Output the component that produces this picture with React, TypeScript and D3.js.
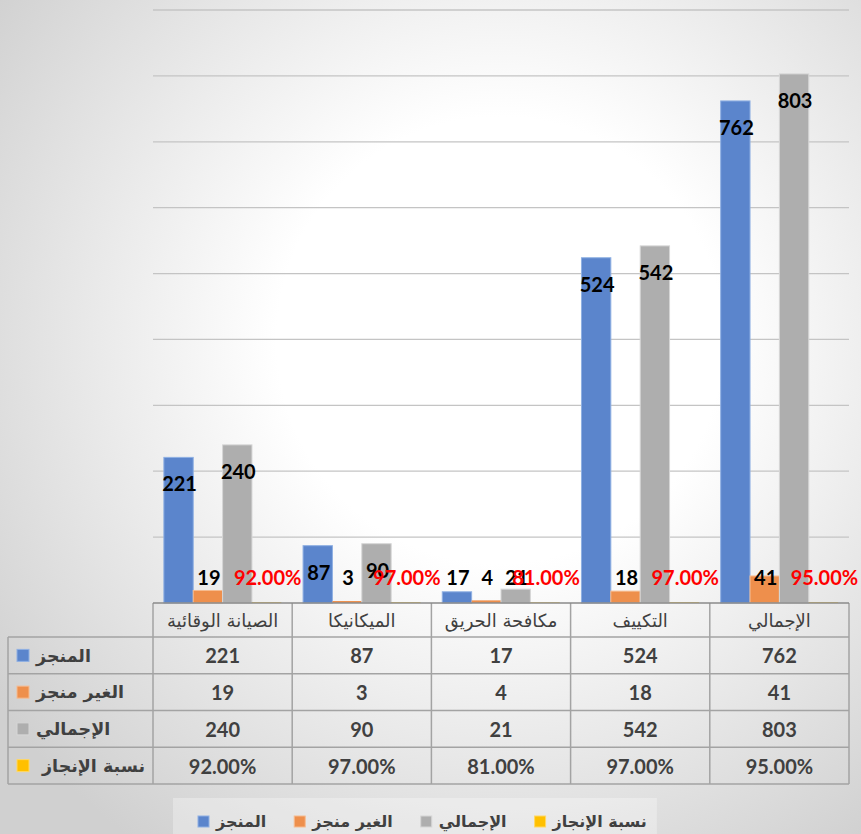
import React, { useEffect, useRef } from 'react';
import * as d3 from 'd3';

const categories = ['الصيانة الوقائية', 'الميكانيكا', 'مكافحة الحريق', 'التكييف', 'الإجمالي'];
const seriesNames = ['المنجز', 'الغير منجز', 'الإجمالي', 'نسبة الإنجاز'];
const doneValues = [221, 87, 17, 524, 762];
const notDoneValues = [19, 3, 4, 18, 41];
const totalValues = [240, 90, 21, 542, 803];
const rateValues = [0.92, 0.97, 0.81, 0.97, 0.95];
const seriesColors = ['#5b85cc', '#ee8f4c', '#aeaeae', '#ffc000'];
const seriesStrokes = ['#8fb0e3', '#f6bb90', '#d6d6d6', '#ffd866'];
const yMax = 900;

const W = 861;
const H = 834;

export default function App() {
  const ref = useRef<SVGSVGElement | null>(null);

  useEffect(() => {
    const svg = d3.select(ref.current);
    svg.selectAll('*').remove();

    const seriesValues = [doneValues, notDoneValues, totalValues, rateValues];
    const fmtPct = (v: number) => (v * 100).toFixed(2) + '%';
    const fmtVal = (si: number, v: number) => (si === 3 ? fmtPct(v) : String(v));

    const left = 153, right = 849, top = 10, base = 603;
    const x0 = d3.scaleBand<string>().domain(categories).range([left, right]).padding(0);
    const x1 = d3.scaleBand<string>().domain(seriesNames).range([0, x0.bandwidth()]).paddingInner(0).paddingOuter(0.37);
    const y = d3.scaleLinear().domain([0, yMax]).range([base, top]);

    const defs = svg.append('defs');
    const rg = defs.append('radialGradient').attr('id', 'bg').attr('gradientUnits', 'userSpaceOnUse')
      .attr('cx', 500).attr('cy', 340).attr('r', 620);
    rg.append('stop').attr('offset', '0%').attr('stop-color', '#ffffff');
    rg.append('stop').attr('offset', '36%').attr('stop-color', '#ffffff');
    rg.append('stop').attr('offset', '100%').attr('stop-color', '#d0d0d0');

    svg.append('rect').attr('x', 0).attr('y', 0).attr('width', W).attr('height', H).attr('fill', 'url(#bg)');

    // gridlines
    const ticks = d3.range(100, yMax + 1, 100);
    svg.append('g').selectAll('line').data(ticks).join('line')
      .attr('x1', left).attr('x2', right)
      .attr('y1', (d) => y(d)).attr('y2', (d) => y(d))
      .attr('stroke', '#c4c4c4').attr('stroke-width', 1.3);

    // bars
    const barsG = svg.append('g');
    seriesNames.forEach((s, si) => {
      barsG.append('g').selectAll('rect').data(seriesValues[si]).join('rect')
        .attr('x', (_d, i) => (x0(categories[i]) as number) + (x1(s) as number))
        .attr('y', (d) => y(d))
        .attr('width', x1.bandwidth())
        .attr('height', (d) => base - y(d))
        .attr('fill', seriesColors[si])
        .attr('stroke', (d) => (base - y(d) > 3 ? seriesStrokes[si] : 'none'))
        .attr('stroke-width', 1);
    });

    // labels
    const labelsG = svg.append('g');
    seriesNames.forEach((s, si) => {
      labelsG.append('g').selectAll('text').data(seriesValues[si]).join('text')
        .attr('x', (_d, i) => (x0(categories[i]) as number) + (x1(s) as number) + x1.bandwidth() / 2 + 1)
        .attr('y', (d) => Math.min(y(d) + 27, 578))
        .attr('dy', '0.35em')
        .attr('text-anchor', 'middle')
        .attr('font-family', 'Lato, "Open Sans", sans-serif')
        .attr('font-weight', 700)
        .attr('font-size', 20)
        .attr('fill', si === 3 ? '#ff0000' : '#000000')
        .text((d) => fmtVal(si, d));
    });

    // table
    const tableLeft = 8;
    const headerBottom = 637;
    const rowH = (784 - headerBottom) / 4;
    const tableBottom = headerBottom + rowH * 4;
    const tg = svg.append('g');
    const lineColor = '#a3a3a3';

    for (let r = 0; r <= 4; r++) {
      const yy = headerBottom + r * rowH;
      tg.append('line').attr('x1', tableLeft).attr('x2', right).attr('y1', yy).attr('y2', yy)
        .attr('stroke', lineColor).attr('stroke-width', 1.5);
    }
    tg.append('line').attr('x1', tableLeft).attr('x2', tableLeft).attr('y1', headerBottom).attr('y2', tableBottom)
      .attr('stroke', lineColor).attr('stroke-width', 1.5);
    const bounds = categories.map((c) => x0(c) as number).concat([right]);
    bounds.forEach((bx) => {
      tg.append('line').attr('x1', bx).attr('x2', bx).attr('y1', base).attr('y2', tableBottom)
        .attr('stroke', lineColor).attr('stroke-width', 1.5);
    });
    tg.append('line').attr('x1', left).attr('x2', right).attr('y1', base).attr('y2', base)
      .attr('stroke', '#8a8a8a').attr('stroke-width', 1.6);

    tg.selectAll('text.hdr').data(categories).join('text').attr('class', 'hdr')
      .attr('x', (c) => (x0(c) as number) + x0.bandwidth() / 2)
      .attr('y', (base + headerBottom) / 2 + 1)
      .attr('dy', '0.35em')
      .attr('text-anchor', 'middle')
      .attr('font-family', '"DejaVu Sans", sans-serif')
      .attr('font-size', 18)
      .attr('fill', '#404040')
      .text((c) => c);

    seriesNames.forEach((s, si) => {
      const cy = headerBottom + rowH * si + rowH / 2;
      tg.append('rect').attr('x', 17).attr('y', cy - 6).attr('width', 12).attr('height', 12)
        .attr('fill', seriesColors[si]).attr('stroke', seriesStrokes[si]).attr('stroke-width', 1);
      tg.append('text').attr('x', si === 3 ? 42 : 36).attr('y', cy).attr('dy', '0.35em')
        .attr('font-family', '"DejaVu Sans", sans-serif')
        .attr('font-weight', 700).attr('font-size', 17.5).attr('fill', '#404040')
        .text(s);
      tg.append('g').selectAll('text').data(seriesValues[si]).join('text')
        .attr('x', (_d, i) => (x0(categories[i]) as number) + x0.bandwidth() / 2)
        .attr('y', cy + 1)
        .attr('dy', '0.35em')
        .attr('text-anchor', 'middle')
        .attr('font-family', 'Lato, "Open Sans", sans-serif')
        .attr('font-weight', 700).attr('font-size', 20).attr('fill', '#404040')
        .text((d) => fmtVal(si, d));
    });

    // legend
    const lg = svg.append('g');
    const legBox = lg.append('rect').attr('x', 173).attr('y', 798).attr('height', 40)
      .attr('fill', '#ffffff').attr('fill-opacity', 0.3);
    let lx = 198;
    const ly = 821;
    seriesNames.forEach((s, si) => {
      lg.append('rect').attr('x', lx).attr('y', ly - 5).attr('width', 11).attr('height', 11)
        .attr('fill', seriesColors[si]).attr('stroke', seriesStrokes[si]).attr('stroke-width', 1);
      const t = lg.append('text').attr('x', lx + 18).attr('y', ly).attr('dy', '0.35em')
        .attr('font-family', '"DejaVu Sans", sans-serif')
        .attr('font-weight', 700).attr('font-size', 16).attr('fill', '#404040')
        .text(s);
      const tw = (t.node() as SVGTextElement).getComputedTextLength();
      lx = lx + 18 + tw + 28;
    });
    legBox.attr('width', lx - 28 + 10 - 173);
  }, []);

  return (
    <svg ref={ref} width={W} height={H} style={{ position: 'absolute', left: 0, top: 0, display: 'block' }} />
  );
}
